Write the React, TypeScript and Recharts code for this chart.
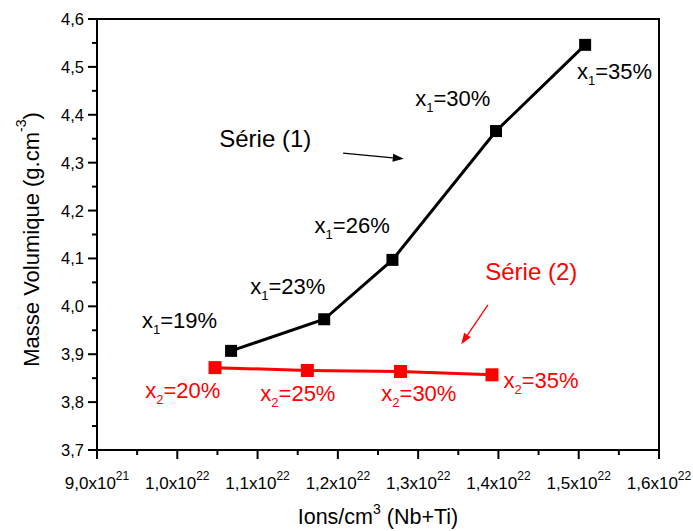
import React from 'react';
import {ReferenceArea, ReferenceDot, ReferenceLine, Scatter, ScatterChart, XAxis, YAxis} from 'recharts';

// Série (1) : x1 = 19..35 %
const serie1X = [1.067e22, 1.183e22, 1.268e22, 1.397e22, 1.508e22];
const serie1Y = [3.907, 3.973, 4.097, 4.366, 4.546];
const serie1Pct = ['19%', '23%', '26%', '30%', '35%'];

// Série (2) : x2 = 20..35 %
const serie2X = [1.047e22, 1.162e22, 1.278e22, 1.392e22];
const serie2Y = [3.872, 3.866, 3.864, 3.857];
const serie2Pct = ['20%', '25%', '30%', '35%'];

const xMajorTicks = [9e21, 1e22, 1.1e22, 1.2e22, 1.3e22, 1.4e22, 1.5e22, 1.6e22];
const xTickMantissa = ['9,0', '1,0', '1,1', '1,2', '1,3', '1,4', '1,5', '1,6'];
const xTickExponent = ['21', '22', '22', '22', '22', '22', '22', '22'];

const yMajorTicks = [3.7, 3.8, 3.9, 4.0, 4.1, 4.2, 4.3, 4.4, 4.5, 4.6];
const yTickLabels = ['3,7', '3,8', '3,9', '4,0', '4,1', '4,2', '4,3', '4,4', '4,5', '4,6'];

// where the annotation texts sit (data units, left/baseline of the text)
const serie1LabelPos = [[9.56e21, 3.955], [1.0909e22, 4.026], [1.171e22, 4.154], [1.2964e22, 4.418], [1.4978e22, 4.474]];
const serie2LabelPos = [[9.6e21, 3.808], [1.1034e22, 3.802], [1.2541e22, 3.802], [1.4063e22, 3.829]];

const FONT = '"Liberation Sans", Arial, sans-serif';
const RED = '#ff0000';

const midpoints = (arr: number[]) => arr.slice(0, -1).map((v, i) => (v + arr[i + 1]) / 2);
const xAllTicks = [...xMajorTicks, ...midpoints(xMajorTicks)].sort((a, b) => a - b);
const yAllTicks = [...yMajorTicks, ...midpoints(yMajorTicks)].sort((a, b) => a - b);

const serie1 = serie1X.map((x, i) => ({x, y: serie1Y[i]}));
const serie2 = serie2X.map((x, i) => ({x, y: serie2Y[i]}));

const findMajor = (ticks: number[], v: number) => ticks.findIndex(t => Math.abs(t - v) < Math.abs(t) * 1e-6);

const XTick = (props: any) => {
    const {x, y, payload} = props;
    const i = findMajor(xMajorTicks, payload.value);
    const major = i >= 0;
    return (
        <g>
            <line x1={x} x2={x} y1={y} y2={y + (major ? 9 : 5)} stroke="#000" strokeWidth={2}/>
            {major && (
                <text x={x} y={y + 39} textAnchor="middle" fontSize={17} fontFamily={FONT} fill="#000">
                    {xTickMantissa[i]}x10
                    <tspan dy={-9} fontSize={12}>{xTickExponent[i]}</tspan>
                </text>
            )}
        </g>
    );
};

const YTick = (props: any) => {
    const {x, y, payload} = props;
    const i = findMajor(yMajorTicks, payload.value);
    const major = i >= 0;
    return (
        <g>
            <line x1={x - (major ? 9 : 5)} x2={x} y1={y} y2={y} stroke="#000" strokeWidth={2}/>
            {major && (
                <text x={x - 13} y={y + 6} textAnchor="end" fontSize={16.5} fontFamily={FONT} fill="#000">
                    {yTickLabels[i]}
                </text>
            )}
        </g>
    );
};

const square = (size: number, color: string) => (p: any) => (
    <rect x={p.cx - size / 2} y={p.cy - size / 2} width={size} height={size} fill={color}/>
);

const pctLabel = (sub: string, pct: string, color: string) => (p: any) => (
    <text x={p.cx} y={p.cy} fontSize={22} fontFamily={FONT} fill={color}>
        x<tspan dy={6} fontSize={13}>{sub}</tspan><tspan dy={-6}>={pct}</tspan>
    </text>
);

const plainLabel = (value: string, color: string) => (p: any) => (
    <text x={p.cx} y={p.cy} fontSize={24} fontFamily={FONT} fill={color}>{value}</text>
);

const arrow = (color: string) => (p: any) => {
    const {x1, y1, x2, y2} = p;
    const a = Math.atan2(y2 - y1, x2 - x1);
    const len = 11, w = 4;
    const bx = x2 - len * Math.cos(a), by = y2 - len * Math.sin(a);
    const pts = `${x2},${y2} ${bx + w * Math.sin(a)},${by - w * Math.cos(a)} ${bx - w * Math.sin(a)},${by + w * Math.cos(a)}`;
    return (
        <g>
            <line x1={x1} y1={y1} x2={bx} y2={by} stroke={color} strokeWidth={1.3}/>
            <polygon points={pts} fill={color}/>
        </g>
    );
};

const YTitle = (p: any) => {
    const vb = p.viewBox;
    const cx = vb.x + 31, cy = vb.y + vb.height / 2 + 5;
    return (
        <text x={cx} y={cy} transform={`rotate(-90, ${cx}, ${cy})`} textAnchor="middle" dominantBaseline="central"
              fontSize={22} fontFamily={FONT} fill="#000">
            Masse Volumique (g.cm<tspan dy={-10} fontSize={14}>-3</tspan><tspan dy={10}>)</tspan>
        </text>
    );
};

const XTitle = (p: any) => {
    const vb = p.viewBox;
    return (
        <text x={vb.x + vb.width / 2} y={vb.y + 74} textAnchor="middle" fontSize={21.5} fontFamily={FONT} fill="#000">
            Ions/cm<tspan dy={-10} fontSize={14}>3</tspan><tspan dy={10}> (Nb+Ti)</tspan>
        </text>
    );
};

export default function App() {
    return (
        <div style={{position: 'absolute', left: 0, top: 0, background: '#fff'}}>
            <ScatterChart width={693} height={531} margin={{top: 19, right: 34, left: 0, bottom: 0}}>
                <XAxis type="number" dataKey="x" domain={[9e21, 1.6e22]} ticks={xAllTicks} interval={0}
                       tickSize={0} tickMargin={0} tickLine={false} tick={<XTick/>} height={81}
                       axisLine={{stroke: '#000', strokeWidth: 2}} label={<XTitle/>} allowDataOverflow/>
                <YAxis type="number" dataKey="y" domain={[3.7, 4.6]} ticks={yAllTicks} interval={0}
                       tickSize={0} tickMargin={0} tickLine={false} tick={<YTick/>} width={97}
                       axisLine={{stroke: '#000', strokeWidth: 2}} label={<YTitle/>} allowDataOverflow/>
                <ReferenceArea x1={9e21} x2={1.6e22} y1={3.7} y2={4.6} fill="none" fillOpacity={0}
                               stroke="#000" strokeWidth={2}/>
                <Scatter data={serie1} line={{stroke: '#000', strokeWidth: 3}} shape={square(12, '#000')}
                         isAnimationActive={false}/>
                <Scatter data={serie2} line={{stroke: RED, strokeWidth: 3}} shape={square(13, RED)}
                         isAnimationActive={false}/>
                {serie1Pct.map((pct, i) => (
                    <ReferenceDot key={'a' + i} x={serie1LabelPos[i][0]} y={serie1LabelPos[i][1]} r={0}
                                  shape={pctLabel('1', pct, '#000')}/>
                ))}
                {serie2Pct.map((pct, i) => (
                    <ReferenceDot key={'b' + i} x={serie2LabelPos[i][0]} y={serie2LabelPos[i][1]} r={0}
                                  shape={pctLabel('2', pct, RED)}/>
                ))}
                <ReferenceDot x={1.0523e22} y={4.333} r={0} shape={plainLabel('Série (1)', '#000')}/>
                <ReferenceDot x={1.3836e22} y={4.056} r={0} shape={plainLabel('Série (2)', RED)}/>
                <ReferenceLine segment={[{x: 1.2066e22, y: 4.32}, {x: 1.2821e22, y: 4.308}]} shape={arrow('#000')}/>
                <ReferenceLine segment={[{x: 1.3869e22, y: 4.003}, {x: 1.3537e22, y: 3.921}]} shape={arrow(RED)}/>
            </ScatterChart>
        </div>
    );
}
